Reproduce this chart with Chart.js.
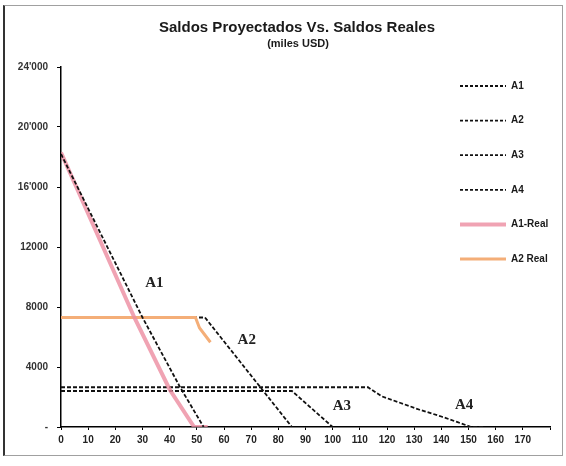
<!DOCTYPE html>
<html>
<head>
<meta charset="utf-8">
<script src="https://cdn.jsdelivr.net/npm/chart.js@4.4.0/dist/chart.umd.min.js"></script>
<style>
    html, body { margin: 0; padding: 0; background: #fff; }
    #wrap { position: relative; width: 566px; height: 466px; }
    #chart { position: absolute; left: 0; top: 0; }
    #frame {
        position: absolute; left: 3px; top: 5px; width: 557px; height: 449px;
        border: 1px solid #a0a0a0; border-left: 2px solid #333; pointer-events: none;
    }
</style>
</head>
<body>
<div id="wrap">
    <canvas id="chart" width="566" height="466"></canvas>
    <div id="frame"></div>
</div>
<script>
const chartTitle = "Saldos Proyectados Vs. Saldos Reales";
const chartSubtitle = "(miles USD)";

const seriesNames = ["A1", "A2", "A3", "A4", "A1-Real", "A2 Real"];

// days / balances
const a1Days = [0, 30, 44, 52.5];
const a1Values = [18200, 7300, 2600, 0];
const a2Days = [0, 53, 85];
const a2Values = [7300, 7300, 0];
const a3Days = [0, 85, 100];
const a3Values = [2400, 2400, 0];
const a4Days = [0, 113, 118, 125, 132, 140, 146, 151, 156];
const a4Values = [2650, 2650, 2050, 1600, 1150, 700, 320, 0, 0];
const a1RealDays = [0, 27, 40, 49, 54];
const a1RealValues = [18300, 7300, 2500, 0, 0];
const a2RealDays = [0, 49.5, 51, 55];
const a2RealValues = [7300, 7300, 6600, 5650];

const yTickValues = [0, 4000, 8000, 12000, 16000, 20000, 24000];
const yTickTexts = ["-", "4000", "8000", "12000", "16'000", "20'000", "24'000"];

const lineNotes = ["A1", "A2", "A3", "A4"];

function toPoints(xs, ys) {
    return xs.map((x, i) => ({ x, y: ys[i] }));
}

const dashed = { borderColor: "#111", borderWidth: 1.8, borderDash: [4, 2] };

const datasets = [
    { label: seriesNames[0], data: toPoints(a1Days, a1Values), ...dashed, order: 0 },
    { label: seriesNames[1], data: toPoints(a2Days, a2Values), ...dashed, order: 3 },
    { label: seriesNames[2], data: toPoints(a3Days, a3Values), ...dashed, order: 4 },
    { label: seriesNames[3], data: toPoints(a4Days, a4Values), ...dashed, order: 5 },
    { label: seriesNames[4], data: toPoints(a1RealDays, a1RealValues),
      borderColor: "rgba(236, 140, 160, 0.8)", borderWidth: 4, order: 1 },
    { label: seriesNames[5], data: toPoints(a2RealDays, a2RealValues),
      borderColor: "#f4ae78", borderWidth: 3, order: 2 },
];

// title, legend and the A1..A4 notes beside the lines
const decorations = {
    id: "decorations",
    afterDraw(chart) {
        const ctx = chart.ctx;
        const xs = chart.scales.x;
        const ys = chart.scales.y;
        ctx.save();

        ctx.fillStyle = "#1a1a1a";
        ctx.textAlign = "center";
        ctx.textBaseline = "middle";
        ctx.font = "bold 15px 'Liberation Sans', Arial, sans-serif";
        ctx.fillText(chartTitle, 297, 28);
        ctx.font = "bold 11px 'Liberation Sans', Arial, sans-serif";
        ctx.fillText(chartSubtitle, 298, 44);

        ctx.textAlign = "left";
        ctx.font = "bold 10px 'Liberation Sans', Arial, sans-serif";
        chart.data.datasets.forEach((ds, i) => {
            const y = 86 + i * 34.6;
            ctx.strokeStyle = ds.borderColor;
            ctx.lineWidth = ds.borderWidth;
            ctx.setLineDash(ds.borderDash ? [3, 2] : []);
            ctx.beginPath();
            ctx.moveTo(460, y);
            ctx.lineTo(506, y);
            ctx.stroke();
            ctx.fillStyle = "#1a1a1a";
            ctx.fillText(ds.label, 511, y);
        });
        ctx.setLineDash([]);

        const noteAt = [[31, 9600], [65, 5800], [100, 1400], [145, 1450]];
        ctx.font = "bold 15px 'Liberation Serif', 'Times New Roman', serif";
        ctx.fillStyle = "#222";
        lineNotes.forEach((t, i) => {
            ctx.fillText(t, xs.getPixelForValue(noteAt[i][0]), ys.getPixelForValue(noteAt[i][1]));
        });
        ctx.restore();
    },
};

const tickFont = { family: "'Liberation Sans', Arial, sans-serif", size: 10, weight: "bold" };

new Chart(document.getElementById("chart").getContext("2d"), {
    type: "line",
    data: { datasets },
    options: {
        responsive: false,
        animation: false,
        devicePixelRatio: 1,
        layout: { padding: { top: 67, right: 16, left: 0, bottom: 0 } },
        elements: { point: { radius: 0 }, line: { tension: 0 } },
        plugins: {
            legend: { display: false },
            title: { display: false },
            tooltip: { enabled: false },
        },
        scales: {
            x: {
                type: "linear",
                min: 0,
                max: 180,
                border: { color: "#000", width: 1.5 },
                grid: { drawOnChartArea: false, drawTicks: true, tickLength: 3, color: "#000" },
                ticks: {
                    stepSize: 10,
                    autoSkip: false,
                    maxRotation: 0,
                    padding: 4,
                    color: "#222",
                    font: tickFont,
                    callback: (v) => (v === 180 ? "" : v),
                },
                afterFit: (s) => { s.height = 39; },
            },
            y: {
                min: 0,
                max: 24000,
                border: { color: "#000", width: 1.5 },
                grid: { drawOnChartArea: false, drawTicks: true, tickLength: 4, color: "#000" },
                ticks: {
                    stepSize: 4000,
                    padding: 9,
                    color: "#333",
                    font: tickFont,
                    callback: (v) => {
                        const i = yTickValues.indexOf(v);
                        return i >= 0 ? yTickTexts[i] : "";
                    },
                },
                afterFit: (s) => { s.width = 61; },
            },
        },
    },
    plugins: [decorations],
});
</script>
</body>
</html>
